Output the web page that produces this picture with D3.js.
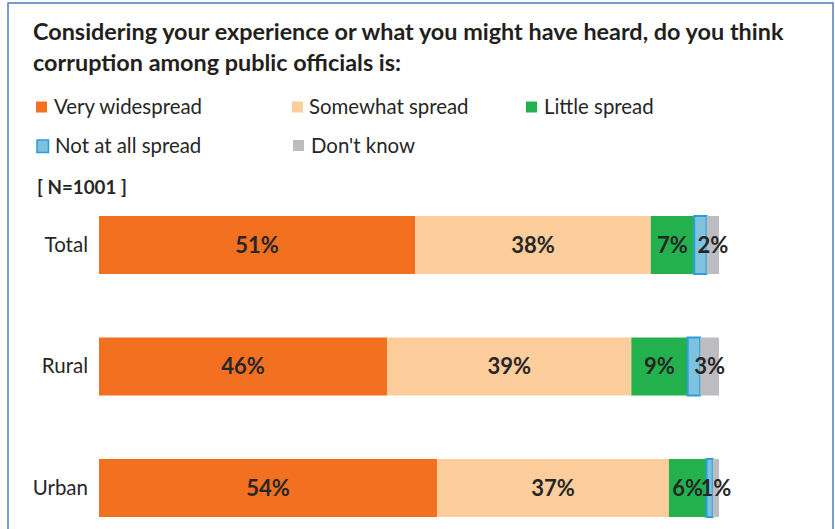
<!DOCTYPE html>
<html>
<head>
<meta charset="utf-8">
<script src="https://cdn.jsdelivr.net/npm/d3@7"></script>
<style>
  html, body { margin: 0; padding: 0; background: #ffffff; }
  svg { display: block; }
  text { font-family: Lato, "Open Sans", "Noto Sans", sans-serif; fill: #262626; }
</style>
</head>
<body>
<svg id="chart" width="835" height="529"></svg>
<script>
// Survey answers by area, in percent
const categories = ["Total", "Rural", "Urban"];
const seriesKeys = ["Very widespread", "Somewhat spread", "Little spread", "Not at all spread", "Don't know"];
const veryWidespread = [51, 46, 54];
const somewhatSpread = [38, 39, 37];
const littleSpread = [7, 9, 6];
const notAtAllSpread = [2, 2, 1];
const dontKnow = [2, 3, 1];
const titleLines = [
  "Considering your experience or what you might have heard, do you think",
  "corruption among public officials is:"
];
const sampleNote = "[ N=1001 ]";

const seriesValues = [veryWidespread, somewhatSpread, littleSpread, notAtAllSpread, dontKnow];
const labelled = [true, true, true, false, true];

const fills = ["#F37021", "#FDCD9B", "#22B14C", "#7FC2DF", "#BDBDC1"];
const strokes = [null, null, null, "#2B9FDC", null];

const rows = categories.map((c, i) => {
  const r = { category: c };
  seriesKeys.forEach((k, j) => { r[k] = seriesValues[j][i]; });
  return r;
});

const svg = d3.select("#chart");

// frame
svg.append("rect")
  .attr("x", 8).attr("y", 3)
  .attr("width", 825).attr("height", 540)
  .attr("fill", "none")
  .attr("stroke", "#4A7EBB")
  .attr("stroke-width", 1.5);

// title
svg.append("g").selectAll("text").data(titleLines).join("text")
  .attr("x", 33)
  .attr("y", (d, i) => 40 + i * 30.5)
  .attr("font-size", 23.4)
  .attr("font-weight", 700)
  .style("fill", "#231F20")
  .text(d => d);

// legend
const legendPos = [
  { x: 36, y: 107, tx: 54 },
  { x: 292, y: 107, tx: 309 },
  { x: 526, y: 107, tx: 544 },
  { x: 37, y: 145.5, tx: 55 },
  { x: 293, y: 145.5, tx: 311 }
];
const legend = svg.append("g").selectAll("g").data(seriesKeys).join("g");
legend.append("rect")
  .attr("x", (d, i) => legendPos[i].x)
  .attr("y", (d, i) => legendPos[i].y - 5.5)
  .attr("width", (d, i) => i === 3 ? 11.5 : 11)
  .attr("height", (d, i) => i === 3 ? 12.5 : 11)
  .attr("fill", (d, i) => fills[i])
  .attr("stroke", (d, i) => strokes[i] || "none")
  .attr("stroke-width", 1.5);
legend.append("text")
  .attr("x", (d, i) => legendPos[i].tx)
  .attr("y", (d, i) => legendPos[i].y)
  .attr("dy", "0.35em")
  .attr("font-size", 20.4)
  .text(d => d);

svg.append("text")
  .attr("x", 37).attr("y", 187)
  .attr("dy", "0.35em")
  .attr("font-size", 18.8)
  .attr("font-weight", 700)
  .text(sampleNote);

// scales
const x = d3.scaleLinear().domain([0, 1]).range([99, 719]);
const y = d3.scaleBand()
  .domain(categories)
  .range([152.5, 580.5])
  .paddingInner(0.5226)
  .paddingOuter(0.5226);

const stacked = d3.stack()
  .keys(seriesKeys)
  .offset(d3.stackOffsetExpand)(rows);

// category axis
const yAxis = d3.axisLeft(y).tickSize(0).tickPadding(11);
const axisG = svg.append("g")
  .attr("transform", `translate(${x(0)},0)`)
  .call(yAxis);
axisG.select(".domain").remove();
axisG.selectAll("text")
  .attr("font-size", 20.5)
  .style("font-family", "Lato, 'Open Sans', sans-serif")
  .style("fill", "#262626");

// bars
const layers = svg.append("g").selectAll("g").data(stacked).join("g")
  .attr("fill", (d, i) => fills[i]);

layers.selectAll("rect").data(d => d).join("rect")
  .attr("x", d => x(d[0]))
  .attr("y", d => y(d.data.category))
  .attr("width", d => x(d[1]) - x(d[0]))
  .attr("height", y.bandwidth());

// outlined segment
layers.filter((d, i) => strokes[i])
  .selectAll("rect")
  .attr("stroke", strokes[3])
  .attr("stroke-width", 2);

// value labels
const labelG = svg.append("g");
stacked.forEach((layer, j) => {
  if (!labelled[j]) return;
  labelG.selectAll(null).data(layer).join("text")
    .attr("x", d => (x(d[0]) + x(d[1])) / 2)
    .attr("y", d => y(d.data.category) + y.bandwidth() / 2)
    .attr("dy", "0.35em")
    .attr("text-anchor", "middle")
    .attr("font-size", 22)
    .attr("font-weight", 700)
    .text(d => d.data[layer.key] + "%");
});
</script>
</body>
</html>
